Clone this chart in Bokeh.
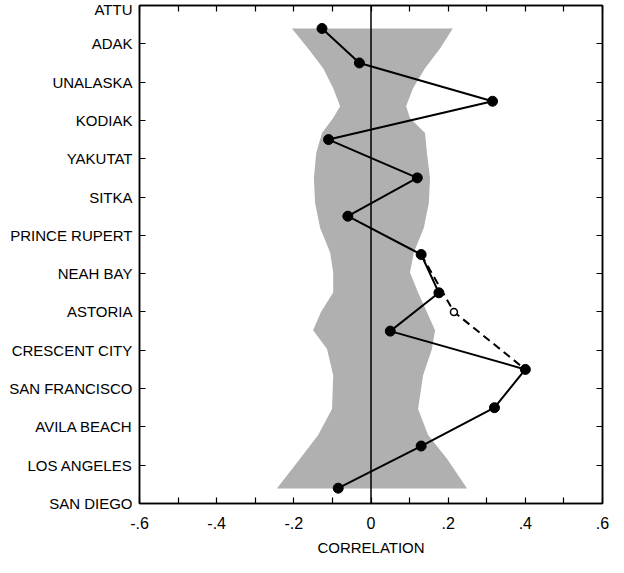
from bokeh.plotting import figure
from bokeh.models import (LinearAxis, FixedTicker, Range1d, Span, CustomJSTickFormatter)
from bokeh.embed import file_html
from bokeh.resources import INLINE

# Stations, top to bottom
stations = ["ATTU", "ADAK", "UNALASKA", "KODIAK", "YAKUTAT", "SITKA",
            "PRINCE RUPERT", "NEAH BAY", "ASTORIA", "CRESCENT CITY",
            "SAN FRANCISCO", "AVILA BEACH", "LOS ANGELES", "SAN DIEGO"]

# Correlations between adjacent station pairs (plotted between stations)
pair_pos = [0.6, 1.5, 2.5, 3.5, 4.5, 5.5, 6.5, 7.5, 8.5, 9.5, 10.5, 11.5, 12.6]
pair_corr = [-0.127, -0.03, 0.315, -0.11, 0.12, -0.06, 0.13, 0.176, 0.05,
             0.40, 0.32, 0.13, -0.085]

# Alternate (dashed) path, skipping Astoria
alt_pos = [6.5, 8.0, 9.5]
alt_corr = [0.13, 0.215, 0.40]

# Significance band edges
band_pos = [0.60, 1.12, 1.64, 2.16, 2.63, 2.94, 3.33, 3.85, 4.50, 5.15, 5.80,
            6.45, 6.97, 7.49, 8.01, 8.48, 8.97, 9.65, 10.53, 11.21, 11.83, 12.61]
band_lo = [-0.205, -0.163, -0.124, -0.098, -0.080, -0.098, -0.127, -0.142,
           -0.148, -0.145, -0.132, -0.106, -0.098, -0.098, -0.130, -0.150,
           -0.114, -0.098, -0.101, -0.137, -0.184, -0.244]
band_hi = [0.212, 0.179, 0.140, 0.109, 0.091, 0.101, 0.140, 0.145, 0.153,
           0.150, 0.137, 0.111, 0.101, 0.122, 0.145, 0.166, 0.158, 0.135,
           0.122, 0.148, 0.197, 0.249]

x_labels = [-0.6, -0.4, -0.2, 0.0, 0.2, 0.4, 0.6]
x_minor = [-0.5, -0.3, -0.1, 0.1, 0.3, 0.5]

FONT = "Liberation Sans"

p = figure(frame_width=463, frame_height=498, output_backend="svg",
           toolbar_location=None, x_range=Range1d(-0.6, 0.6),
           y_range=Range1d(13, 0), x_axis_location=None, y_axis_location=None,
           min_border_left=139, min_border_top=5, min_border_right=14,
           min_border_bottom=60)
p.grid.visible = False
p.outline_line_color = "black"
p.outline_line_width = 1.5
p.background_fill_color = "white"
p.border_fill_color = "white"

# band
xs = band_lo + band_hi[::-1]
ys = band_pos + band_pos[::-1]
p.patch(xs, ys, fill_color="#b0b0b0", line_color=None)

p.add_layout(Span(location=0, dimension="height", line_color="black", line_width=1.5))

p.line(alt_corr, alt_pos, line_color="black", line_width=2, line_dash="8 5")
p.line(pair_corr, pair_pos, line_color="black", line_width=2)
p.scatter(pair_corr, pair_pos, size=10, fill_color="black", line_color="black")
p.scatter(alt_corr[1:2], alt_pos[1:2], size=7, fill_color="white",
          line_color="black", line_width=1.5)

yt = list(range(len(stations)))

blank = CustomJSTickFormatter(code="return '';")

def style(ax):
    ax.axis_line_color = "black"
    ax.axis_line_width = 1.5
    ax.major_tick_line_color = "black"
    ax.minor_tick_line_color = "black"
    ax.major_tick_line_width = 1.2
    ax.minor_tick_line_width = 1.2
    ax.major_tick_in = 6
    ax.major_tick_out = 0
    ax.minor_tick_in = 6
    ax.minor_tick_out = 0
    ax.major_label_text_color = "black"
    ax.axis_label_text_color = "black"

left = LinearAxis(ticker=FixedTicker(ticks=yt),
                  major_label_overrides={i: s for i, s in enumerate(stations)})
style(left)
left.major_label_text_font = FONT
left.major_label_text_font_size = "15px"
left.major_label_standoff = 7
p.add_layout(left, "left")

right = LinearAxis(ticker=FixedTicker(ticks=yt), formatter=blank)
style(right)
right.major_label_standoff = 0
p.add_layout(right, "right")

fmt = CustomJSTickFormatter(code="""
if (Math.abs(tick) < 1e-9) { return '0'; }
return tick.toFixed(1).replace('0.', '.');
""")

bottom = LinearAxis(ticker=FixedTicker(ticks=x_labels, minor_ticks=x_minor),
                    formatter=fmt, axis_label="CORRELATION")
style(bottom)
bottom.major_label_text_font = FONT
bottom.major_label_text_font_size = "16px"
bottom.major_label_standoff = 13
bottom.axis_label_text_font = FONT
bottom.axis_label_text_font_size = "15px"
bottom.axis_label_text_font_style = "normal"
bottom.axis_label_standoff = 7
p.add_layout(bottom, "below")

top = LinearAxis(ticker=FixedTicker(ticks=x_labels, minor_ticks=x_minor), formatter=blank)
style(top)
top.major_label_standoff = 0
p.add_layout(top, "above")

open("out.html", "w").write(file_html(p, INLINE))
